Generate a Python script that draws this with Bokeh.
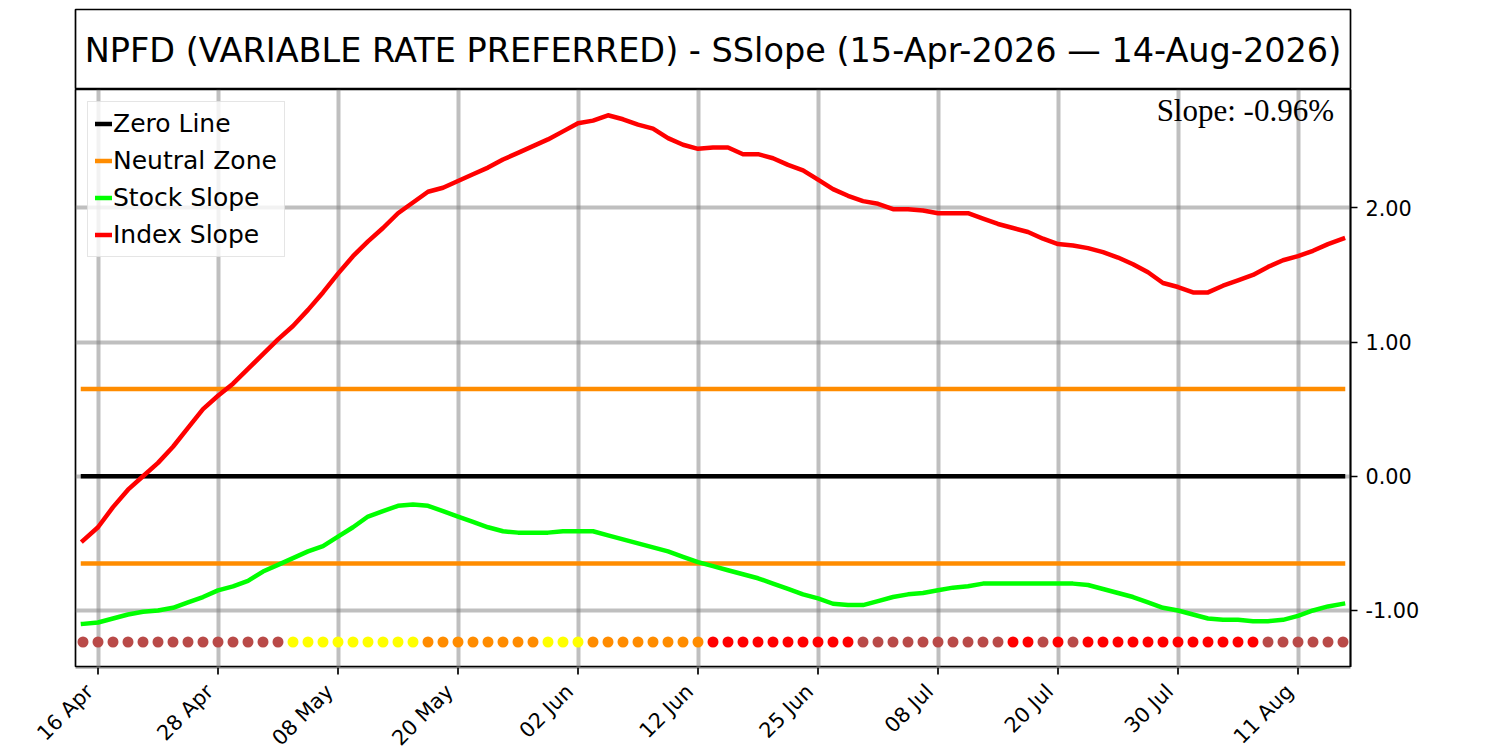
import pandas as pd
from bokeh.plotting import figure
from bokeh.models import (Range1d, FixedTicker, Legend, LegendItem, Label, Grid,
                          LinearAxis, PrintfTickFormatter)
from bokeh.core.properties import value
from bokeh.layouts import column
from bokeh.embed import file_html
from bokeh.resources import INLINE

# ---------------- data ----------------
title_text = "NPFD (VARIABLE RATE PREFERRED) - SSlope (15-Apr-2026 \u2014 14-Aug-2026)"
start_date = "2026-04-15"
end_date = "2026-08-14"
market_holidays = ["2026-05-25", "2026-06-19", "2026-07-03"]
tick_labels = ["16 Apr", "28 Apr", "08 May", "20 May", "02 Jun", "12 Jun",
               "25 Jun", "08 Jul", "20 Jul", "30 Jul", "11 Aug"]
y_ticks = [-1.0, 0.0, 1.0, 2.0]

index_slope = [-0.48, -0.38, -0.23, -0.10, 0.00, 0.10, 0.22, 0.36, 0.50, 0.60,
               0.69, 0.80, 0.91, 1.02, 1.12, 1.24, 1.37, 1.51, 1.64, 1.75,
               1.85, 1.96, 2.04, 2.12, 2.15, 2.20, 2.25, 2.30, 2.36, 2.41,
               2.46, 2.51, 2.57, 2.63, 2.65, 2.69, 2.66, 2.62, 2.59, 2.52,
               2.47, 2.44, 2.45, 2.45, 2.40, 2.40, 2.37, 2.32, 2.28, 2.21,
               2.14, 2.09, 2.05, 2.03, 1.99, 1.99, 1.98, 1.96, 1.96, 1.96,
               1.92, 1.88, 1.85, 1.82, 1.77, 1.73, 1.72, 1.70, 1.67, 1.63,
               1.58, 1.52, 1.44, 1.41, 1.37, 1.37, 1.42, 1.46, 1.50, 1.56,
               1.61, 1.64, 1.68, 1.73, 1.77]

stock_slope = [-1.10, -1.09, -1.06, -1.03, -1.01, -1.00, -0.98, -0.94, -0.90, -0.85,
               -0.82, -0.78, -0.71, -0.66, -0.61, -0.56, -0.52, -0.45, -0.38, -0.30,
               -0.26, -0.22, -0.21, -0.22, -0.26, -0.30, -0.34, -0.38, -0.41, -0.42,
               -0.42, -0.42, -0.41, -0.41, -0.41, -0.44, -0.47, -0.50, -0.53, -0.56,
               -0.60, -0.64, -0.67, -0.70, -0.73, -0.76, -0.80, -0.84, -0.88, -0.91,
               -0.95, -0.96, -0.96, -0.93, -0.90, -0.88, -0.87, -0.85, -0.83, -0.82,
               -0.80, -0.80, -0.80, -0.80, -0.80, -0.80, -0.80, -0.81, -0.84, -0.87,
               -0.90, -0.94, -0.98, -1.00, -1.03, -1.06, -1.07, -1.07, -1.08, -1.08,
               -1.07, -1.04, -1.00, -0.97, -0.95]

# daily signal state: B = weak, Y = caution, O = neutral, R = strong
signal_codes = list("BBBBBBBBBBBBBB" "YYYYYYYYY" "OOOOOOOO" "YYY" "OOOOOOOO"
                    "RRRRRRRRRR" "BBBBBBBBBB" "RR" "B" "R" "B" "RRRRRRRRRRRR" "BBBBBB")
signal_colors = {"B": "#b94a48", "Y": "#ffff00", "O": "#ff8c00", "R": "#ff0000"}

neutral_band = 0.65
zero_level = 0.0
dot_level = -1.235
slope_text = "Slope: -0.96%"

# ---------------- derived ----------------
days = [d for d in pd.bdate_range(start_date, end_date)
        if d.strftime("%Y-%m-%d") not in market_holidays]
day_labels = [d.strftime("%d %b") for d in days]
n = len(days)
xs = list(range(n))
tick_idx = [day_labels.index(t) for t in tick_labels]
dot_colors = [signal_colors[c] for c in signal_codes]
k = len(tick_idx)

FONT = "DejaVu Sans"
LW = 4.5
Y0, Y1 = -1.425, 2.882
W = 1500
LEFT, RIGHT = 75, 150
FRAME_W = W - LEFT - RIGHT
X0, X1 = -0.5, n - 0.5
UNIT = (X1 - X0) / FRAME_W          # data units per pixel along x

# ---------------- title box ----------------
t = figure(width=W, height=89, x_range=Range1d(0, 1), y_range=Range1d(0, 1),
           output_backend="svg", toolbar_location=None,
           min_border_left=LEFT, min_border_right=RIGHT, min_border_top=9, min_border_bottom=0,
           x_axis_type=None, y_axis_type=None)
t.frame_align = False
t.outline_line_color = "black"
t.outline_line_width = 1.7
t.add_layout(Label(x=0.5, y=0.487, text=title_text, text_align="center",
                   text_baseline="alphabetic", text_font=FONT, text_font_size="33.5px",
                   text_color="black"))

# ---------------- main plot ----------------
p = figure(width=W, height=578,
           x_range=Range1d(X0, X1), y_range=Range1d(Y0, Y1),
           x_axis_type=None, y_axis_type=None,
           output_backend="svg", toolbar_location=None,
           min_border_left=LEFT, min_border_right=RIGHT, min_border_top=0, min_border_bottom=0)
p.frame_align = False
p.outline_line_color = "black"
p.outline_line_width = 1.7

yax = LinearAxis(ticker=FixedTicker(ticks=y_ticks), formatter=PrintfTickFormatter(format="%.2f"))
yax.major_label_text_font = FONT
yax.major_label_text_font_size = "20.8px"
yax.major_label_text_color = "black"
yax.major_label_standoff = 8
yax.major_tick_out = 7
yax.major_tick_in = 0
yax.major_tick_line_width = 1.7
yax.minor_tick_line_color = None
yax.axis_line_width = 1.7
p.add_layout(yax, "right")

for g in (Grid(dimension=0, ticker=FixedTicker(ticks=tick_idx)),
          Grid(dimension=1, ticker=FixedTicker(ticks=y_ticks))):
    g.grid_line_color = "gray"
    g.grid_line_alpha = 0.5
    g.grid_line_width = 4
    p.add_layout(g)

zr = p.line([0, n - 1], [zero_level, zero_level], line_color="black", line_width=LW, line_cap="square")
nu = p.line([0, n - 1], [neutral_band, neutral_band], line_color="#ff8c00", line_width=LW, line_cap="square")
p.line([0, n - 1], [-neutral_band, -neutral_band], line_color="#ff8c00", line_width=LW, line_cap="square")
gs = p.line(xs, stock_slope, line_color="#00ff00", line_width=LW, line_join="round", line_cap="square")
rs = p.line(xs, index_slope, line_color="#ff0000", line_width=LW, line_join="round", line_cap="square")
p.scatter(xs, [dot_level] * n, size=11, fill_color=dot_colors, line_color=None)

legend = Legend(items=[LegendItem(label="Zero Line", renderers=[zr]),
                       LegendItem(label="Neutral Zone", renderers=[nu]),
                       LegendItem(label="Stock Slope", renderers=[gs]),
                       LegendItem(label="Index Slope", renderers=[rs])],
                location="top_left", margin=12, padding=7, spacing=8,
                glyph_width=17, glyph_height=25, label_height=25, label_standoff=1,
                label_text_font=FONT, label_text_font_size="25px", label_text_color="black",
                border_line_color="#cccccc", border_line_width=1.7,
                background_fill_color="white", background_fill_alpha=0.8)
p.add_layout(legend)

p.add_layout(Label(x=n - 1.6, y=2.726, text=slope_text, text_align="right",
                   text_baseline="alphabetic", text_font="Liberation Serif",
                   text_font_size="31px", text_color="black"))

# ---------------- date axis strip (matplotlib-style rotated labels) ----------------
b = figure(width=W, height=83,
           x_range=Range1d(X0 - LEFT * UNIT, X1 + RIGHT * UNIT), y_range=Range1d(-83, 0),
           x_axis_type=None, y_axis_type=None, output_backend="svg", toolbar_location=None,
           min_border_left=0, min_border_right=0, min_border_top=0, min_border_bottom=0)
b.frame_align = False
b.outline_line_color = None
# lower edge of the plot frame and the tick marks
b.segment(x0=[X0], y0=[0], x1=[X1], y1=[0], line_color="black", line_width=1.7)
b.segment(x0=tick_idx, y0=[0] * k, x1=tick_idx, y1=[-7] * k, line_color="black", line_width=1.7)
b.text(x=tick_idx, y=[-29] * k, text=tick_labels, angle=0.7853981634,
       text_align="right", text_baseline="bottom", text_font=value(FONT),
       text_font_size="20.8px", text_color="black")

layout = column(t, p, b, spacing=0)
open("out.html", "w").write(file_html(layout, INLINE))
